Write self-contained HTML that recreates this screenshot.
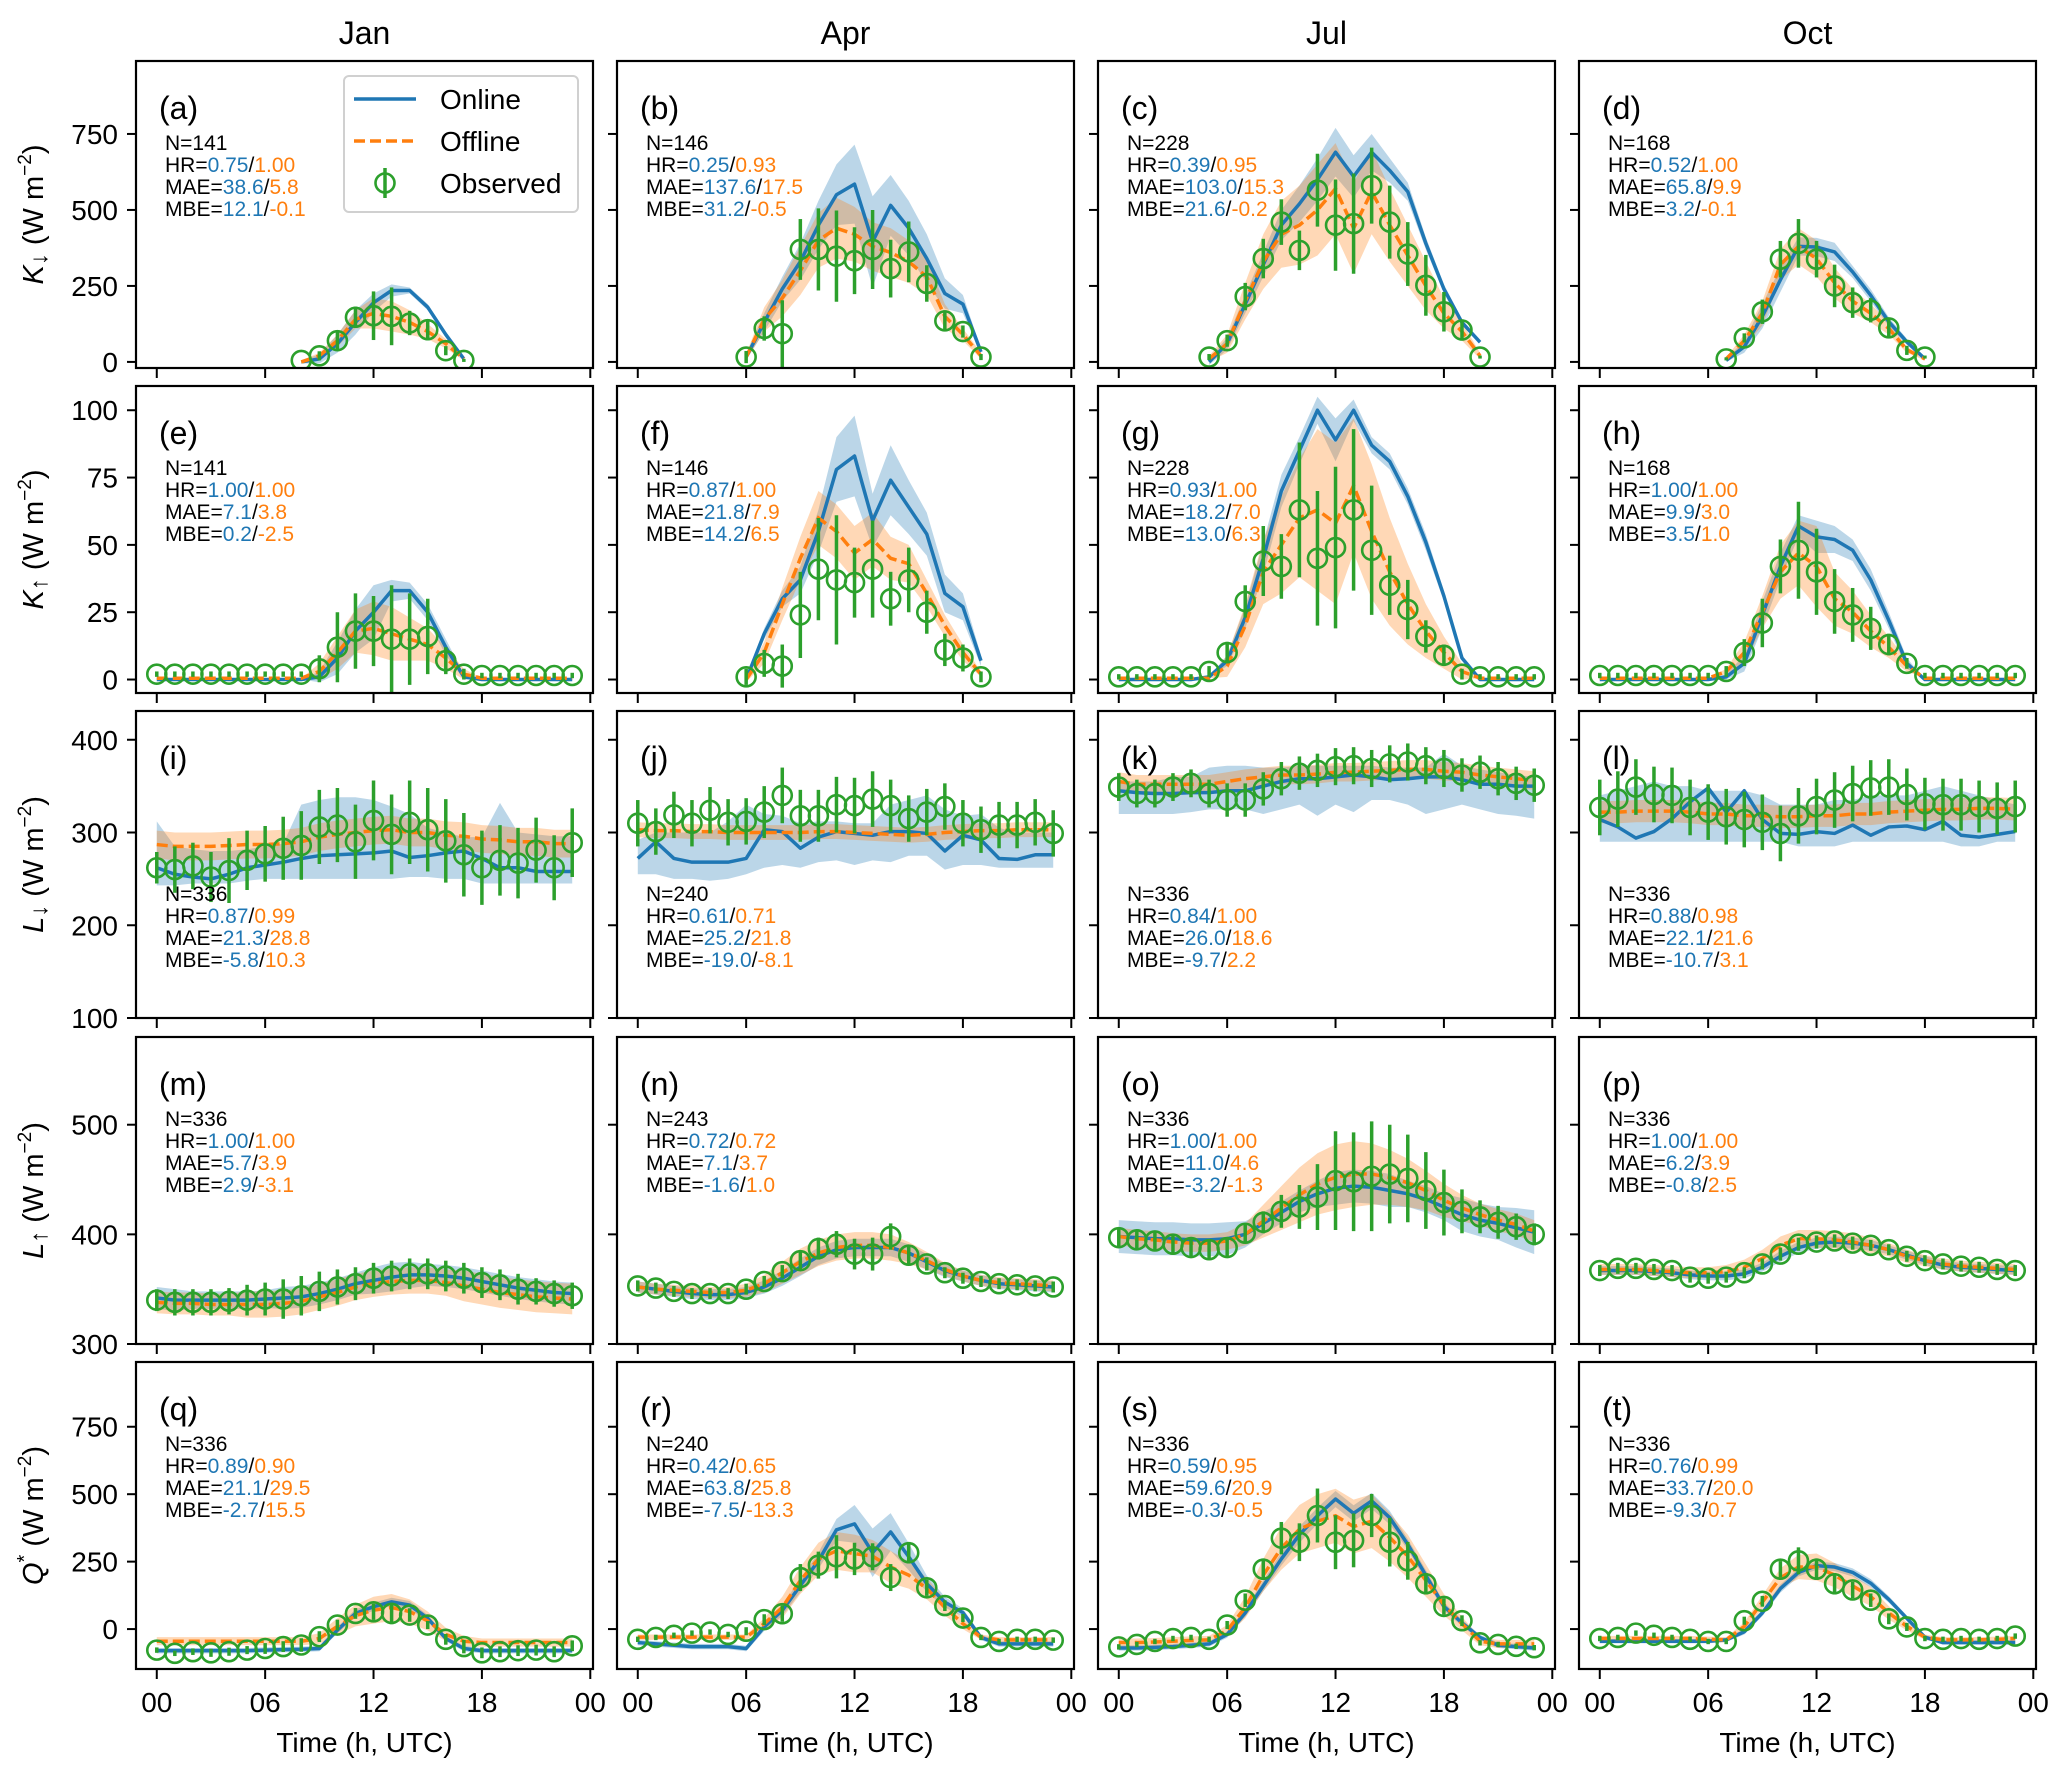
<!DOCTYPE html>
<html><head><meta charset="utf-8"><title>Radiation diurnal cycles</title>
<style>
html,body{margin:0;padding:0;background:#fff;}
svg{display:block;font-family:"Liberation Sans",sans-serif;}
</style></head>
<body>
<svg id="fig" width="2067" height="1775" viewBox="0 0 2067 1775" xmlns="http://www.w3.org/2000/svg"></svg>
<script>
// ---------- data ----------
const months = ["Jan","Apr","Jul","Oct"];
const panelLetters = ["a","b","c","d","e","f","g","h","i","j","k","l","m","n","o","p","q","r","s","t"];
const rowTicks0 = [0,250,500,750];
const rowTicks1 = [0,25,50,75,100];
const rowTicks2 = [100,200,300,400];
const rowTicks3 = [300,400,500];
const rowTicks4 = [0,250,500,750];
const xTickLabels = ["00","06","12","18","00"];
const xTickHours = [0,6,12,18,24];
const statN = [141,146,228,168,141,146,228,168,336,240,336,336,336,243,336,336,336,240,336,336];
const statHR = [["0.75","1.00"],["0.25","0.93"],["0.39","0.95"],["0.52","1.00"],["1.00","1.00"],["0.87","1.00"],["0.93","1.00"],["1.00","1.00"],["0.87","0.99"],["0.61","0.71"],["0.84","1.00"],["0.88","0.98"],["1.00","1.00"],["0.72","0.72"],["1.00","1.00"],["1.00","1.00"],["0.89","0.90"],["0.42","0.65"],["0.59","0.95"],["0.76","0.99"]];
const statMAE = [["38.6","5.8"],["137.6","17.5"],["103.0","15.3"],["65.8","9.9"],["7.1","3.8"],["21.8","7.9"],["18.2","7.0"],["9.9","3.0"],["21.3","28.8"],["25.2","21.8"],["26.0","18.6"],["22.1","21.6"],["5.7","3.9"],["7.1","3.7"],["11.0","4.6"],["6.2","3.9"],["21.1","29.5"],["63.8","25.8"],["59.6","20.9"],["33.7","20.0"]];
const statMBE = [["12.1","-0.1"],["31.2","-0.5"],["21.6","-0.2"],["3.2","-0.1"],["0.2","-2.5"],["14.2","6.5"],["13.0","6.3"],["3.5","1.0"],["-5.8","10.3"],["-19.0","-8.1"],["-9.7","2.2"],["-10.7","3.1"],["2.9","-3.1"],["-1.6","1.0"],["-3.2","-1.3"],["-0.8","2.5"],["-2.7","15.5"],["-7.5","-13.3"],["-0.3","-0.5"],["-9.3","0.7"]];
const startHour = [8,6,5,7, 0,6,0,0, 0,0,0,0, 0,0,0,0, 0,0,0,0];

// Row 1: K down
const aObs=[5,20,70,147,152,150,128,106,37,5];
const aOn=[0,10,60,130,195,235,235,180,90,10];
const aOff=[0,20,70,140,160,150,130,100,60,10];
const aErr=[0,15,30,35,80,95,40,35,15,5];
const aOnW=[5,15,30,40,30,20,10,10,10,5];
const aOffW=[5,10,20,30,50,50,40,25,15,5];
const bObs=[16,110,93,370,370,348,333,370,307,362,258,135,100,16];
const bOn=[16,130,240,330,450,550,585,395,515,440,340,225,190,33];
const bOff=[16,140,210,300,400,440,420,380,360,330,280,150,90,20];
const bErr=[20,40,110,100,135,150,110,130,95,100,60,35,20,10];
const bOnW=[10,30,40,60,80,100,130,150,100,90,80,50,30,10];
const bOffW=[10,40,60,80,90,100,90,80,80,70,60,40,20,10];
const cObs=[16,70,215,340,460,367,565,450,455,580,460,355,252,165,105,16];
const cOn=[0,60,190,320,450,520,600,690,610,690,630,560,390,240,130,65];
const cOff=[10,60,200,330,420,450,500,570,440,560,450,350,250,160,100,20];
const cErr=[10,20,45,65,75,65,120,150,165,125,120,105,100,65,35,5];
const cOnW=[10,20,30,40,50,60,70,80,70,60,40,30,20,15,10,5];
const cOffW=[10,30,60,90,110,130,150,150,150,140,120,100,80,50,30,10];
const dObs=[10,79,165,338,390,338,250,195,170,112,38,16];
const dOn=[5,50,150,270,380,378,362,296,219,132,66,10];
const dOff=[10,70,160,320,380,340,260,200,160,110,40,10];
const dErr=[5,15,40,60,80,60,70,50,40,30,15,5];
const dOnW=[5,20,40,40,30,30,30,20,20,15,10,5];
const dOffW=[5,20,40,50,60,60,50,40,30,20,10,5];
// Row 2: K up
const eObs=[2,2,2,2,2,2,2,2,2,4,12,18,18,15,15,16,7,2,1.5,1.5,1.5,1.5,1.5,1.5];
const eOn=[0,0,0,0,0,0,0,0,0,1,8,18,25,33,33,25,12,1,0,0,0,0,0,0];
const eOff=[0.5,0.5,0.5,0.5,0.5,0.5,0.5,0.5,0.5,3,10,18,19,17,15,13,8,2,0.5,0.5,0.5,0.5,0.5,0.5];
const eErr=[1,1,1,1,1,1,1,1,1,5,13,14,13,20,17,14,5,2,1,1,1,1,1,1];
const eOnW=[0,0,0,0,0,0,0,0,0,2,6,8,10,4,3,3,3,1,0,0,0,0,0,0];
const eOffW=[0,0,0,0,0,0,0,0,0,3,6,8,10,10,8,6,4,2,0,0,0,0,0,0];
const fObs=[1,6,5,24,41,37,36,41,30,37,25,11,8,1];
const fOn=[0,17,30,37,55,78,83,59,74,64,54,32,27,7];
const fOff=[0,10,28,45,60,55,47,52,45,43,32,20,10,2];
const fErr=[3,5,8,16,19,24,13,18,10,12,8,6,5,2];
const fOnW=[0,2,3,5,8,12,15,10,13,10,8,7,5,2];
const fOffW=[1,4,6,8,10,10,10,10,8,7,5,4,3,1];
const gObs=[1,1,1,1,1,3,10,29,44,42,63,45,49,63,48,35,26,16,9,2,1,1,1,1];
const gOn=[0,0,0,0,0,1,7,23,45,70,85,100,89,100,87,81,68,51,31,8,0,0,0,0];
const gOff=[0.5,0.5,0.5,0.5,0.5,0.5,5,20,40,50,60,63,58,72,55,40,28,18,10,3,0.5,0.5,0.5,0.5];
const gErr=[1,1,1,1,1,2,4,6,13,12,25,25,30,30,24,11,11,6,4,2,1,1,1,1];
const gOnW=[0,0,0,0,0,0,2,4,6,6,5,5,8,4,3,3,3,3,2,1,0,0,0,0];
const gOffW=[0,0,0,0,0,0,4,8,12,18,22,30,30,25,25,20,15,10,6,3,0,0,0,0];
const hObs=[1.5,1.5,1.5,1.5,1.5,1.5,1.5,3,10,21,42,48,40,29,24,19,13,6,1.5,1.5,1.5,1.5,1.5,1.5];
const hOn=[0,0,0,0,0,0,0,1,6,24,42,57,53,52,48,37,22,6,0,0,0,0,0,0];
const hOff=[0.5,0.5,0.5,0.5,0.5,0.5,0.5,3,10,25,40,47,42,30,25,18,12,5,0.5,0.5,0.5,0.5,0.5,0.5];
const hErr=[1,1,1,1,1,1,1,2,5,9,10,18,16,12,10,8,4,2,1,1,1,1,1,1];
const hOnW=[0,0,0,0,0,0,0,1,3,5,5,4,6,5,4,4,3,2,0,0,0,0,0,0];
const hOffW=[0,0,0,0,0,0,0,1,4,6,10,12,15,10,8,6,4,2,0,0,0,0,0,0];
// Row 3: L down
const iObs=[262,260,264,252,259,270,277,283,286,306,308,290,313,298,311,303,291,276,262,270,267,281,262,289];
const iOn=[262,255,252,250,255,262,265,268,272,275,276,277,278,280,273,275,278,280,272,262,262,258,258,258];
const iOff=[287,285,285,285,286,287,287,288,290,295,298,300,302,303,300,300,297,296,293,292,290,290,288,288];
const iErr=[17,25,25,27,35,32,30,34,37,40,40,40,43,43,45,45,45,45,40,38,38,35,35,37];
const iOnLo=[243,243,245,245,245,248,250,250,250,250,250,250,250,250,252,252,250,250,245,245,245,245,245,245];
const iOnHi=[312,285,282,280,280,282,285,288,330,335,338,338,335,328,320,305,300,295,295,332,300,298,296,296];
const iOffW=[15,15,15,15,15,15,15,15,15,15,15,15,15,15,15,15,15,15,15,15,15,15,15,15];
const jObs=[310,301,319,310,324,311,312,322,340,318,318,330,329,336,329,315,322,328,310,303,308,308,311,299];
const jOn=[272,290,272,268,268,268,272,303,301,283,295,301,299,297,301,301,299,280,297,292,272,271,276,276];
const jOff=[303,302,302,301,301,300,300,300,300,300,301,301,300,299,298,297,298,300,301,302,302,303,303,303];
const jErr=[25,25,25,25,25,25,25,28,30,28,28,30,30,30,28,25,25,25,25,25,25,25,25,25];
const jOnLo=[255,255,250,250,248,250,255,262,265,262,268,270,265,270,268,275,275,260,265,265,262,262,262,262];
const jOnHi=[292,300,300,300,300,312,330,320,318,310,312,312,310,310,330,335,340,325,318,320,305,300,300,300];
const jOffW=[8,8,8,8,8,8,8,8,8,8,8,8,8,8,8,8,8,8,8,8,8,8,8,8];
const kObs=[349,342,342,349,353,342,335,335,347,358,364,367,371,372,369,374,376,372,369,362,365,358,353,351];
const kOn=[345,343,342,342,343,343,345,345,350,355,358,358,360,362,360,357,358,360,360,357,352,352,350,350];
const kOff=[355,352,352,352,352,352,355,358,360,362,362,363,365,365,366,367,368,368,366,365,362,360,358,356];
const kErr=[15,15,15,15,15,15,18,18,18,18,18,18,20,20,20,20,20,20,20,18,18,18,18,18];
const kOnLo=[320,320,320,320,322,325,325,325,320,325,330,318,330,322,335,335,330,320,325,330,325,320,318,315];
const kOnHi=[355,355,355,360,360,370,372,372,370,370,372,372,372,372,372,370,370,370,385,372,368,365,362,360];
const kOffW=[10,10,10,10,10,10,10,10,10,10,10,10,10,10,10,10,10,10,10,10,10,10,10,10];
const lObs=[327,336,349,341,340,327,322,317,314,311,299,318,328,335,342,348,349,341,331,330,330,328,326,328];
const lOn=[314,306,294,301,315,333,348,322,345,314,299,298,301,299,308,297,306,307,303,312,297,295,298,301];
const lOff=[322,322,323,323,323,322,320,320,318,318,317,317,318,318,320,320,322,323,324,325,325,326,326,325];
const lErr=[30,30,30,30,30,30,30,30,30,30,30,30,30,30,30,30,30,28,28,28,28,28,28,28];
const lOnLo=[290,290,290,290,290,290,290,290,290,290,290,285,285,285,290,290,290,290,290,290,285,285,290,290];
const lOnHi=[340,345,350,355,350,350,345,345,345,340,330,330,330,335,335,340,340,340,345,350,345,340,335,330];
const lOffW=[12,12,12,12,12,12,12,12,12,12,12,12,12,12,12,12,12,12,12,12,12,12,12,12];
// Row 4: L up
const mObs=[340,338,338,338,339,340,341,341,344,348,352,355,360,362,364,364,362,360,356,354,350,348,346,344];
const mOn=[342,340,340,340,340,340,341,342,343,346,350,355,358,361,363,363,362,360,357,354,351,349,347,346];
const mOff=[338,337,337,336,336,336,336,337,339,343,347,352,355,357,358,358,356,353,350,347,345,343,342,341];
const mErr=[10,12,12,12,12,14,15,18,18,18,16,15,14,14,14,14,14,14,14,14,14,12,12,12];
const mOnW=[10,10,8,8,8,8,8,10,10,10,10,10,12,13,12,10,10,10,10,10,10,10,10,10];
const mOffW=[10,10,10,10,10,12,12,12,12,12,12,12,12,12,12,12,12,14,14,14,14,14,14,14];
const nObs=[353,351,348,346,346,346,350,357,366,376,387,391,382,382,398,381,373,365,360,357,355,354,353,352];
const nOn=[352,350,348,346,345,345,347,352,360,370,380,386,388,388,388,383,375,367,362,358,355,354,353,352];
const nOff=[352,350,349,348,347,347,349,355,365,375,383,388,390,390,388,383,376,368,362,358,356,355,354,353];
const nErr=[5,5,5,5,5,5,5,5,6,8,10,12,14,15,12,8,6,5,5,5,5,5,5,5];
const nOnW=[5,5,5,5,5,5,5,6,7,8,8,8,8,8,8,8,7,6,5,5,5,5,5,5];
const nOffW=[5,5,5,5,5,5,6,8,10,12,12,12,12,12,12,10,8,6,5,5,5,5,5,5];
const oObs=[397,395,394,391,388,386,388,401,411,421,425,434,449,448,453,455,451,440,429,421,416,411,407,400];
const oOn=[398,397,396,396,395,395,396,400,410,420,430,437,442,444,443,440,437,432,425,418,413,410,406,402];
const oOff=[398,396,395,393,392,392,394,400,412,424,436,446,452,455,455,452,447,440,431,424,418,413,409,403];
const oErr=[8,8,8,8,8,8,8,8,10,15,20,30,45,45,50,45,40,35,30,20,15,15,12,10];
const oOnW=[15,15,15,15,15,15,15,12,10,10,10,12,15,15,15,15,12,12,12,15,15,15,18,20];
const oOffW=[8,8,8,8,8,8,8,10,15,20,25,28,30,30,28,25,22,18,15,12,10,10,10,10];
const pObs=[367,369,369,368,367,361,360,361,365,373,382,391,393,394,392,390,386,380,376,373,371,370,368,367];
const pOn=[367,367,367,366,365,363,362,362,364,370,380,388,392,393,392,390,386,381,376,372,370,369,368,367];
const pOff=[368,368,368,367,366,365,365,366,370,378,390,396,396,395,393,390,386,380,376,373,371,370,369,368];
const pErr=[5,5,5,5,5,5,5,5,5,5,6,6,6,6,6,5,5,5,5,5,5,5,5,5];
const pOnW=[4,4,4,4,4,4,4,4,4,4,5,5,5,5,5,5,4,4,4,4,4,4,4,4];
const pOffW=[5,5,5,5,5,5,5,6,7,8,8,8,8,8,8,7,6,6,5,5,5,5,5,5];
// Row 5: Q*
const qObs=[-78,-90,-84,-88,-84,-78,-72,-65,-59,-28,15,58,64,58,52,15,-38,-65,-88,-84,-80,-78,-84,-62];
const qOn=[-80,-80,-80,-80,-80,-80,-78,-76,-75,-72,-4,58,83,101,89,40,-35,-72,-80,-80,-80,-80,-80,-80];
const qOff=[-45,-45,-45,-45,-45,-45,-45,-45,-45,-35,10,50,70,80,65,30,-20,-45,-50,-50,-50,-50,-50,-50];
const qErr=[10,10,12,15,15,15,20,20,25,20,20,20,30,40,25,15,20,25,20,20,20,20,20,20];
const qOnW=[10,10,10,10,10,10,10,10,10,10,12,15,15,15,15,12,10,10,10,10,10,10,10,10];
const qOffW=[15,15,15,15,15,15,15,15,15,20,30,40,50,50,45,35,25,20,15,15,15,15,15,15];
const rObs=[-38,-31,-23,-15,-11,-20,-8,35,57,191,237,268,260,268,191,283,153,87,41,-31,-46,-38,-38,-41];
const rOn=[-50,-55,-60,-65,-65,-65,-72,8,69,161,253,368,390,283,360,268,168,100,61,-31,-55,-55,-55,-55];
const rOff=[-30,-30,-30,-30,-30,-30,-30,20,80,180,260,290,280,270,230,200,150,80,20,-30,-40,-40,-40,-40];
const rErr=[10,10,10,10,10,10,15,20,30,50,50,80,60,50,50,40,30,20,15,10,10,10,10,10];
const rOnW=[10,10,10,10,10,10,10,15,20,25,30,40,70,90,70,50,30,20,15,10,10,10,10,10];
const rOffW=[10,10,10,10,10,10,10,20,40,50,60,70,70,60,60,50,40,30,20,10,10,10,10,10];
const sObs=[-66,-57,-46,-35,-31,-38,15,107,222,337,322,421,322,329,421,322,253,168,84,31,-51,-57,-64,-69];
const sOn=[-70,-70,-68,-65,-60,-55,-20,60,160,260,350,420,482,429,475,413,314,199,84,23,-31,-60,-65,-70];
const sOff=[-50,-50,-48,-45,-42,-40,-5,80,200,300,370,400,420,380,400,340,270,180,90,20,-45,-55,-55,-55];
const sErr=[10,10,10,10,10,10,15,25,40,60,70,100,100,100,80,90,70,40,30,20,10,10,10,10];
const sOnW=[10,10,10,10,10,10,12,15,20,25,30,30,30,30,30,25,20,20,15,12,10,10,10,10];
const sOffW=[15,15,15,15,15,15,20,40,60,80,90,100,100,100,100,90,80,60,40,25,15,15,15,15];
const tObs=[-35,-31,-15,-23,-31,-38,-46,-46,31,103,222,253,222,168,145,107,38,8,-35,-38,-35,-38,-35,-26];
const tOn=[-45,-45,-45,-45,-45,-45,-45,-40,-10,60,150,210,235,230,210,170,110,40,-30,-50,-50,-50,-50,-50];
const tOff=[-35,-35,-35,-35,-35,-35,-38,-40,10,100,190,230,230,200,160,120,60,10,-30,-40,-40,-40,-38,-35];
const tErr=[10,10,10,10,10,10,10,10,15,20,30,50,40,40,30,25,20,15,10,10,10,10,10,10];
const tOnW=[8,8,8,8,8,8,8,8,10,12,15,15,15,15,15,15,12,10,8,8,8,8,8,8];
const tOffW=[10,10,10,10,10,10,10,10,15,25,35,45,50,45,40,35,25,15,10,10,10,10,10,10];

// ---------- layout ----------
const colLeft=[136,617,1098,1579], panelW=457;
const rowTop=[61,386,711,1037,1362], panelH=307;
const rowYlim=[[-20,990],[-5,109],[100,431],[300,580],[-148,990]];
const rowTicks=[rowTicks0,rowTicks1,rowTicks2,rowTicks3,rowTicks4];
const XMIN=-1.15, XMAX=24.15;
const BLUE="#1f77b4", ORANGE="#ff7f0e", GREEN="#2ca02c";
const NS="http://www.w3.org/2000/svg";
const svg=document.getElementById("fig");

const panels=[
 {obs:aObs,on:aOn,off:aOff,err:aErr,onW:aOnW,offW:aOffW},
 {obs:bObs,on:bOn,off:bOff,err:bErr,onW:bOnW,offW:bOffW},
 {obs:cObs,on:cOn,off:cOff,err:cErr,onW:cOnW,offW:cOffW},
 {obs:dObs,on:dOn,off:dOff,err:dErr,onW:dOnW,offW:dOffW},
 {obs:eObs,on:eOn,off:eOff,err:eErr,onW:eOnW,offW:eOffW},
 {obs:fObs,on:fOn,off:fOff,err:fErr,onW:fOnW,offW:fOffW},
 {obs:gObs,on:gOn,off:gOff,err:gErr,onW:gOnW,offW:gOffW},
 {obs:hObs,on:hOn,off:hOff,err:hErr,onW:hOnW,offW:hOffW},
 {obs:iObs,on:iOn,off:iOff,err:iErr,onLo:iOnLo,onHi:iOnHi,offW:iOffW},
 {obs:jObs,on:jOn,off:jOff,err:jErr,onLo:jOnLo,onHi:jOnHi,offW:jOffW},
 {obs:kObs,on:kOn,off:kOff,err:kErr,onLo:kOnLo,onHi:kOnHi,offW:kOffW},
 {obs:lObs,on:lOn,off:lOff,err:lErr,onLo:lOnLo,onHi:lOnHi,offW:lOffW},
 {obs:mObs,on:mOn,off:mOff,err:mErr,onW:mOnW,offW:mOffW},
 {obs:nObs,on:nOn,off:nOff,err:nErr,onW:nOnW,offW:nOffW},
 {obs:oObs,on:oOn,off:oOff,err:oErr,onW:oOnW,offW:oOffW},
 {obs:pObs,on:pOn,off:pOff,err:pErr,onW:pOnW,offW:pOffW},
 {obs:qObs,on:qOn,off:qOff,err:qErr,onW:qOnW,offW:qOffW},
 {obs:rObs,on:rOn,off:rOff,err:rErr,onW:rOnW,offW:rOffW},
 {obs:sObs,on:sOn,off:sOff,err:sErr,onW:sOnW,offW:sOffW},
 {obs:tObs,on:tOn,off:tOff,err:tErr,onW:tOnW,offW:tOffW}
];

function mk(tag,attrs,parent){const e=document.createElementNS(NS,tag);for(const k in attrs)e.setAttribute(k,attrs[k]);(parent||svg).appendChild(e);return e;}

const defs=mk("defs",{});
months.forEach((m,c)=>{
  const t=mk("text",{x:colLeft[c]+panelW/2,y:44,"text-anchor":"middle","font-size":32,fill:"#000"});
  
  
  t.textContent=m;
});

const ySym=[["K","↓",""],["K","↑",""],["L","↓",""],["L","↑",""],["Q","","*"]];
ySym.forEach((s,r)=>{
  const cy=rowTop[r]+panelH/2;
  const t=mk("text",{x:0,y:0,"font-size":29,"text-anchor":"middle",transform:`translate(43,${cy}) rotate(-90)`,fill:"#000"});
  
  
  t.innerHTML=`<tspan font-style="italic">${s[0]}</tspan>`+(s[1]?`<tspan font-size="24" dy="4">${s[1]}</tspan><tspan dy="-4">  (W m</tspan>`:`<tspan font-size="20" dy="-12">${s[2]}</tspan><tspan dy="12">  (W m</tspan>`)+`<tspan font-size="19" dy="-12">−2</tspan><tspan dy="12">)</tspan>`;
});

panels.forEach((p,idx)=>{
  const r=Math.floor(idx/4), c=idx%4;
  const L=colLeft[c], T=rowTop[r], [y0,y1]=rowYlim[r];
  const X=h=>L+(h-XMIN)/(XMAX-XMIN)*panelW;
  const Y=v=>T+panelH-(v-y0)/(y1-y0)*panelH;
  const g=mk("g",{});
  
  
  const cid="clip"+idx;
  const cp=mk("clipPath",{id:cid},defs);
  mk("rect",{x:L,y:T,width:panelW,height:panelH},cp);
  const plot=mk("g",{"clip-path":`url(#${cid})`},g);
  const hrs=p.obs.map((_,i)=>startHour[idx]+i);
  const lo1=p.onLo?p.onLo:p.on.map((v,i)=>v-p.onW[i]);
  const hi1=p.onHi?p.onHi:p.on.map((v,i)=>v+p.onW[i]);
  const lo2=p.off.map((v,i)=>v-p.offW[i]);
  const hi2=p.off.map((v,i)=>v+p.offW[i]);
  function band(lo,hi,col,name){
    const pts=hrs.map((h,i)=>X(h)+","+Y(hi[i])).concat(hrs.slice().reverse().map((h,j)=>{const i=hrs.length-1-j;return X(h)+","+Y(lo[i]);}));
    const e=mk("polygon",{points:pts.join(" "),fill:col,"fill-opacity":0.3,stroke:"none"},plot);
    
    
  }
  band(lo1,hi1,BLUE,'online-band');
  band(lo2,hi2,ORANGE,'offline-band');
  const onL=mk("polyline",{points:hrs.map((h,i)=>X(h)+","+Y(p.on[i])).join(" "),fill:"none",stroke:BLUE,"stroke-width":3.5,"stroke-linejoin":"round"},plot);
  
  
  const offL=mk("polyline",{points:hrs.map((h,i)=>X(h)+","+Y(p.off[i])).join(" "),fill:"none",stroke:ORANGE,"stroke-width":3.5,"stroke-dasharray":"11,5"},plot);
  
  
  hrs.forEach((h,i)=>{
    const eb=mk("line",{x1:X(h),x2:X(h),y1:Y(p.obs[i]-p.err[i]),y2:Y(p.obs[i]+p.err[i]),stroke:GREEN,"stroke-width":3.5},plot);
    
    
    const ci=mk("circle",{cx:X(h),cy:Y(p.obs[i]),r:9.5,fill:"none",stroke:GREEN,"stroke-width":2.6},plot);
    
    
  });
  const fr=mk("rect",{x:L,y:T,width:panelW,height:panelH,fill:"none",stroke:"#000","stroke-width":2.2},g);
  
  
  rowTicks[r].forEach(v=>{
    mk("line",{x1:L-9,x2:L,y1:Y(v),y2:Y(v),stroke:"#000","stroke-width":2},g);
    if(c===0){
      const t=mk("text",{x:L-18,y:Y(v)+10,"text-anchor":"end","font-size":28,fill:"#000"},g);
      
      
      t.textContent=v;
    }
  });
  xTickHours.forEach((h,k)=>{
    mk("line",{x1:X(h),x2:X(h),y1:T+panelH,y2:T+panelH+10,stroke:"#000","stroke-width":2},g);
    if(r===4){
      const t=mk("text",{x:X(h),y:T+panelH+43,"text-anchor":"middle","font-size":28,fill:"#000"},g);
      
      
      t.textContent=xTickLabels[k];
    }
  });
  if(r===4){
    const xl=mk("text",{x:L+panelW/2,y:1752,"text-anchor":"middle","font-size":28,fill:"#000"},g);
    
    
    xl.textContent="Time (h, UTC)";
  }
  const pl=mk("text",{x:L+23,y:T+58,"font-size":32,fill:"#000"},g);
  
  
  pl.textContent="("+panelLetters[idx]+")";
  const sy=T+(r===2?190:89);
  const st=mk("text",{x:L+29,y:sy,"font-size":21,fill:"#000"},g);
  
  
  const pair=(lab,v)=>`<tspan x="${L+29}" dy="22">${lab}=<tspan fill="${BLUE}">${v[0]}</tspan>/<tspan fill="${ORANGE}">${v[1]}</tspan></tspan>`;
  st.innerHTML=`<tspan x="${L+29}" dy="0">N=${statN[idx]}</tspan>`+pair("HR",statHR[idx])+pair("MAE",statMAE[idx])+pair("MBE",statMBE[idx]);
});

const lg=mk("g",{});


mk("rect",{x:344,y:76,width:234,height:136,rx:5,fill:"#fff","fill-opacity":0.85,stroke:"#d0d0d0","stroke-width":2},lg);
const l1=mk("line",{x1:354,x2:416,y1:99,y2:99,stroke:BLUE,"stroke-width":3.5},lg);


const l2=mk("line",{x1:354,x2:416,y1:141,y2:141,stroke:ORANGE,"stroke-width":3.5,"stroke-dasharray":"11,5"},lg);


mk("line",{x1:385,x2:385,y1:168,y2:198,stroke:GREEN,"stroke-width":3.5},lg);
const l3=mk("circle",{cx:385,cy:183,r:9.5,fill:"none",stroke:GREEN,"stroke-width":2.6},lg);


[["Online",109],["Offline",151],["Observed",193]].forEach(([s,y])=>{
  const t=mk("text",{x:440,y:y,"font-size":28,fill:"#000"},lg);
  
  
  t.textContent=s;
});
</script>
</body></html>
